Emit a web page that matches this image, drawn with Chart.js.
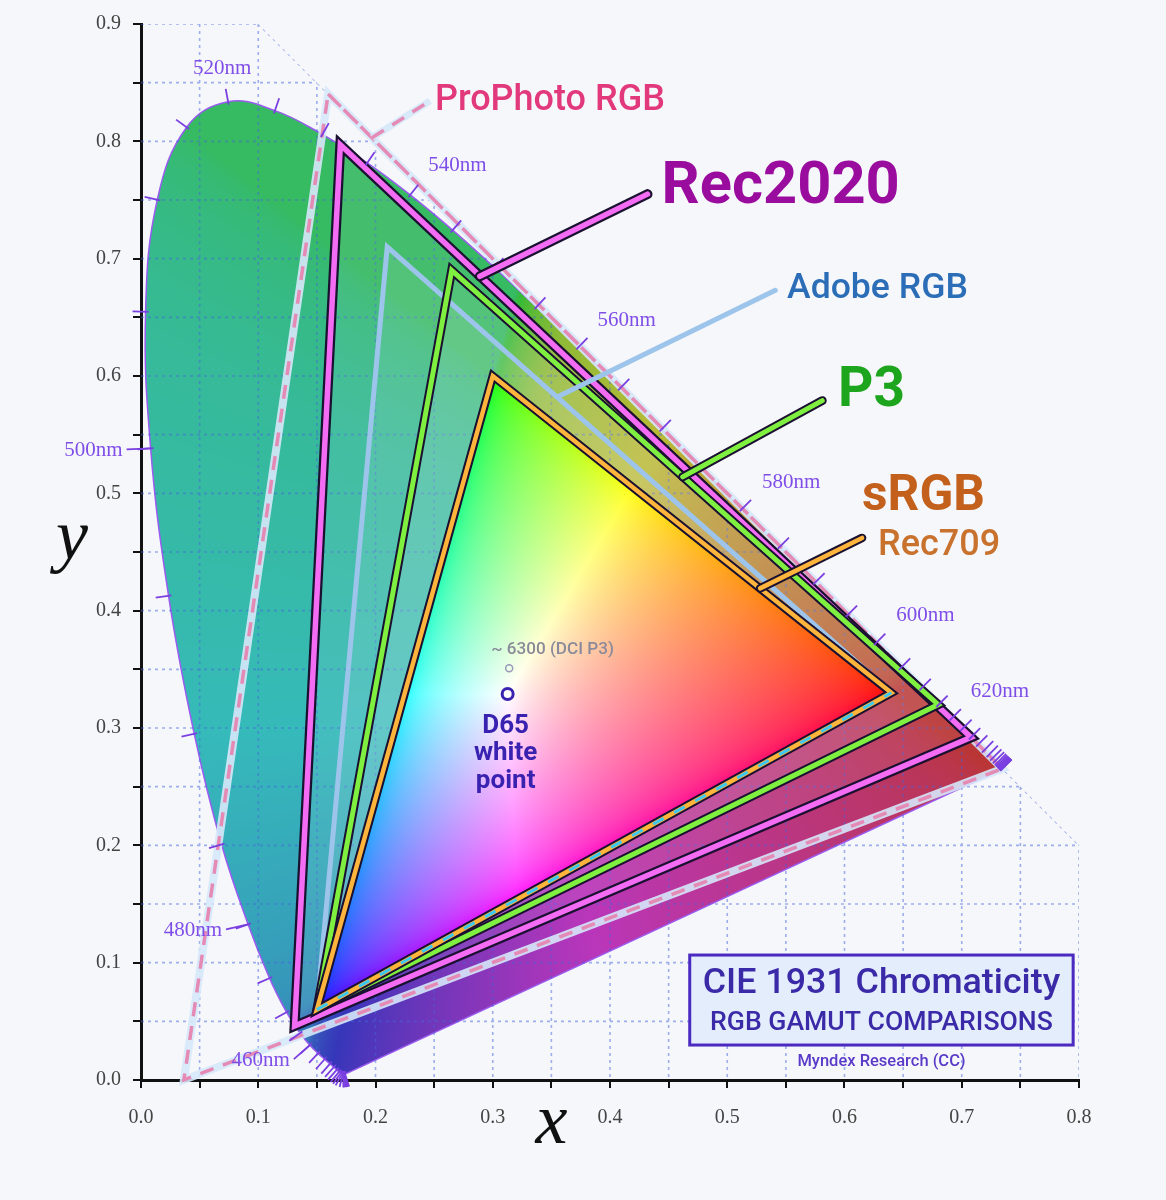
<!DOCTYPE html>
<html>
<head>
<meta charset="utf-8">
<script src="https://cdn.jsdelivr.net/npm/chart.js@4.4.1/dist/chart.umd.min.js"></script>
<style>
  html, body { margin: 0; padding: 0; background: #f6f7fa; }
  #wrap { width: 1166px; height: 1200px; }
</style>
</head>
<body>
<div id="wrap"><canvas id="cie"></canvas></div>
<script>
// CIE 1931 spectral locus, 5nm steps
const wavelengths = [380,385,390,395,400,405,410,415,420,425,430,435,440,445,450,455,460,465,470,475,
  480,485,490,495,500,505,510,515,520,525,530,535,540,545,550,555,560,565,570,575,580,585,590,595,
  600,605,610,615,620,625,630,635,640,645,650,655,660,665,670,675,680,685,690,695,700];
const locusX = [0.1741,0.1740,0.1738,0.1736,0.1733,0.1730,0.1726,0.1721,0.1714,0.1703,0.1689,0.1669,0.1644,0.1611,0.1566,0.1510,0.1440,0.1355,0.1241,0.1096,
  0.0913,0.0687,0.0454,0.0235,0.0082,0.0039,0.0139,0.0389,0.0743,0.1142,0.1547,0.1929,0.2296,0.2658,0.3016,0.3373,0.3731,0.4087,0.4441,0.4788,0.5125,0.5448,0.5752,0.6029,
  0.6270,0.6482,0.6658,0.6801,0.6915,0.7006,0.7079,0.7140,0.7190,0.7230,0.7260,0.7283,0.7300,0.7311,0.7320,0.7327,0.7334,0.7340,0.7344,0.7346,0.7347];
const locusY = [0.0050,0.0050,0.0049,0.0049,0.0048,0.0048,0.0048,0.0048,0.0051,0.0058,0.0069,0.0086,0.0109,0.0138,0.0177,0.0227,0.0297,0.0399,0.0578,0.0868,
  0.1327,0.2007,0.2950,0.4127,0.5384,0.6548,0.7502,0.8120,0.8338,0.8262,0.8059,0.7816,0.7543,0.7243,0.6923,0.6589,0.6245,0.5896,0.5547,0.5202,0.4866,0.4544,0.4242,0.3965,
  0.3725,0.3514,0.3340,0.3197,0.3083,0.2993,0.2920,0.2859,0.2809,0.2770,0.2740,0.2717,0.2700,0.2689,0.2680,0.2673,0.2666,0.2660,0.2656,0.2654,0.2653];
const labeledWl = [460,480,500,520,540,560,580,600,620];

// gamut primaries, order R, G, B
const srgbX = [0.640, 0.300, 0.150],     srgbY = [0.330, 0.600, 0.060];
const p3X = [0.680, 0.265, 0.150],       p3Y = [0.320, 0.690, 0.060];
const adobeX = [0.640, 0.210, 0.150],    adobeY = [0.330, 0.710, 0.060];
const rec2020X = [0.708, 0.170, 0.131],  rec2020Y = [0.292, 0.797, 0.046];
const prophotoX = [0.7347, 0.1596, 0.0366], prophotoY = [0.2653, 0.8404, 0.0001];

// white points: D65, DCI P3
const whiteX = [0.3127, 0.314];
const whiteY = [0.3290, 0.351];

// axis tick labels
const xTickLabels = ['0.0','0.1','0.2','0.3','0.4','0.5','0.6','0.7','0.8'];
const yTickLabels = ['0.0','0.1','0.2','0.3','0.4','0.5','0.6','0.7','0.8','0.9'];

// area where the dotted grid is shown
const hullX = [0, 0, 0.1, 0.8, 0.8];
const hullY = [0, 0.9, 0.9, 0.2, 0];

// label placement (pixel offsets from the locus point)
const wlLabelPos = {
  460: { dx: -20, dy: 15, align: 'right', lead: true },
  480: { dx: -26, dy: 6, align: 'right', lead: true },
  500: { dx: -28, dy: 2, align: 'right', lead: true },
  520: { dx: -6, dy: -33, align: 'center' },
  540: { dx: 18, dy: -29, align: 'left' },
  560: { dx: 19, dy: -27, align: 'left' },
  580: { dx: 20, dy: -27, align: 'left' },
  600: { dx: 20, dy: -27, align: 'left' },
  620: { dx: 19, dy: -27, align: 'left' }
};

const gamutLabels = [
  { text: 'ProPhoto RGB', x: 0.2507, y: 0.8345, w: 230, weight: 500, color: '#e2387c', line: [[0.197, 0.803], [0.2465, 0.8345]], kind: 'prophoto' },
  { text: 'Rec2020', x: 0.444, y: 0.760, w: 238, weight: 700, color: '#9a0c9e', line: [[0.289, 0.685], [0.432, 0.755]], kind: 'rec2020' },
  { text: 'Adobe RGB', x: 0.551, y: 0.674, w: 181, weight: 500, color: '#2b6db6', line: [[0.355, 0.582], [0.541, 0.673]], kind: 'adobe' },
  { text: 'P3', x: 0.5945, y: 0.586, w: 67, weight: 700, color: '#1ea51e', line: [[0.462, 0.514], [0.581, 0.579]], kind: 'p3' },
  { text: 'sRGB', x: 0.615, y: 0.496, w: 123, weight: 700, color: '#c2601c', line: [[0.528, 0.419], [0.615, 0.462]], kind: 'srgb' },
  { text: 'Rec709', x: 0.6286, y: 0.4555, w: 122, weight: 500, color: '#c8722e' }
];

const SANS = 'Roboto, "Noto Sans", sans-serif';
const SERIF = '"Liberation Serif", "DejaVu Serif", serif';

function pts(xs, ys, close) {
  const p = xs.map((v, i) => ({ x: v, y: ys[i] }));
  if (close) { p.push(p[0]); p.push(p[1]); }
  return p;
}

// xy chromaticity -> display colour (max-normalised, clipped)
function chromaRGB(x, y) {
  y = Math.max(y, 0.001);
  const X = x / y, Z = (1 - x - y) / y;
  let r = Math.max(0, 3.2406 * X - 1.5372 - 0.4986 * Z);
  let g = Math.max(0, -0.9689 * X + 1.8758 + 0.0415 * Z);
  let b = Math.max(0, 0.0557 * X - 0.2040 + 1.0570 * Z);
  const m = Math.max(r, g, b) || 1;
  const gam = c => c <= 0.0031308 ? 12.92 * c : 1.055 * Math.pow(c, 1 / 2.4) - 0.055;
  return [gam(r / m), gam(g / m), gam(b / m)];
}

// piecewise hue remap: greens lean to olive near yellow and teal toward cyan
const HUE_IN = [0, 60, 90, 120, 150, 230, 360];
const HUE_OUT = [0, 60, 80, 140, 165, 200, 360];
function remapHue(h) {
  for (let i = 1; i < HUE_IN.length; i++) {
    if (h <= HUE_IN[i]) {
      const t = (h - HUE_IN[i - 1]) / (HUE_IN[i] - HUE_IN[i - 1]);
      return HUE_OUT[i - 1] + t * (HUE_OUT[i] - HUE_OUT[i - 1]);
    }
  }
  return h;
}

// darker version used outside the sRGB triangle
function mutedRGB(c) {
  const [r, g, b] = c;
  const mx = Math.max(r, g, b), mn = Math.min(r, g, b), d = mx - mn;
  let h = 0;
  if (d > 1e-6) {
    if (mx === r) h = ((g - b) / d + 6) % 6;
    else if (mx === g) h = (b - r) / d + 2;
    else h = (r - g) / d + 4;
    h *= 60;
  }
  h = remapHue(h);
  const s = 0.55 * Math.min(1, d / (mx || 1)), l = 0.47;
  const C = (1 - Math.abs(2 * l - 1)) * s, X = C * (1 - Math.abs((h / 60) % 2 - 1)), m = l - C / 2;
  let rr, gg, bb;
  if (h < 60) [rr, gg, bb] = [C, X, 0];
  else if (h < 120) [rr, gg, bb] = [X, C, 0];
  else if (h < 180) [rr, gg, bb] = [0, C, X];
  else if (h < 240) [rr, gg, bb] = [0, X, C];
  else if (h < 300) [rr, gg, bb] = [X, 0, C];
  else [rr, gg, bb] = [C, 0, X];
  return [rr + m, gg + m, bb + m];
}

function fitFont(ctx, text, weight, family, width) {
  ctx.font = `${weight} 100px ${family}`;
  const w = ctx.measureText(text).width;
  return `${weight} ${(100 * width / w).toFixed(1)}px ${family}`;
}

// builds the colour patterns once the scales are placed
const chromaPlugin = {
  id: 'chroma',
  afterLayout(chart) {
    const a = chart.chartArea, sx = chart.scales.x, sy = chart.scales.y;
    const key = a.left + ',' + a.top + ',' + a.width + ',' + a.height;
    if (chart.$chroma && chart.$chroma.key === key) return;
    const w = chart.width, h = chart.height;
    const cb = document.createElement('canvas'); cb.width = w; cb.height = h;
    const cm = document.createElement('canvas'); cm.width = w; cm.height = h;
    const ib = cb.getContext('2d').createImageData(w, h);
    const im = cm.getContext('2d').createImageData(w, h);
    for (let py = Math.floor(a.top); py < Math.min(h, Math.ceil(a.bottom)); py++) {
      const y = sy.max - (py + 0.5 - a.top) / a.height * (sy.max - sy.min);
      for (let px = Math.floor(a.left); px < Math.min(w, Math.ceil(a.right)); px++) {
        const x = sx.min + (px + 0.5 - a.left) / a.width * (sx.max - sx.min);
        const c = chromaRGB(x, y);
        const m = mutedRGB(c);
        const k = (py * w + px) * 4;
        ib.data[k] = c[0] * 255; ib.data[k + 1] = c[1] * 255; ib.data[k + 2] = c[2] * 255; ib.data[k + 3] = 255;
        im.data[k] = m[0] * 255; im.data[k + 1] = m[1] * 255; im.data[k + 2] = m[2] * 255; im.data[k + 3] = 255;
      }
    }
    cb.getContext('2d').putImageData(ib, 0, 0);
    cm.getContext('2d').putImageData(im, 0, 0);
    chart.$chroma = {
      key,
      bright: chart.ctx.createPattern(cb, 'no-repeat'),
      muted: chart.ctx.createPattern(cm, 'no-repeat')
    };
  }
};

// dotted grid, drawn right after the locus fill
const gridPlugin = {
  id: 'cieGrid',
  afterDatasetDraw(chart, args) {
    if (args.index !== 0) return;
    const { ctx, scales: { x, y } } = chart;
    ctx.save();
    ctx.beginPath();
    hullX.forEach((v, i) => {
      const px = x.getPixelForValue(v), py = y.getPixelForValue(hullY[i]);
      i ? ctx.lineTo(px, py) : ctx.moveTo(px, py);
    });
    ctx.closePath();
    ctx.clip();
    ctx.strokeStyle = 'rgba(70,100,220,0.5)';
    ctx.lineWidth = 1.6;
    ctx.setLineDash([3, 4]);
    ctx.beginPath();
    x.ticks.forEach(t => {
      if (t.value <= x.min) return;
      const px = x.getPixelForValue(t.value);
      ctx.moveTo(px, chart.chartArea.top); ctx.lineTo(px, chart.chartArea.bottom);
    });
    y.ticks.forEach(t => {
      if (t.value <= y.min) return;
      const py = y.getPixelForValue(t.value);
      ctx.moveTo(chart.chartArea.left, py); ctx.lineTo(chart.chartArea.right, py);
    });
    // diagonal edge of the grid area
    ctx.moveTo(x.getPixelForValue(hullX[2]), y.getPixelForValue(hullY[2]));
    ctx.lineTo(x.getPixelForValue(hullX[3]), y.getPixelForValue(hullY[3]));
    ctx.stroke();
    ctx.restore();
  }
};

function strokeLeader(ctx, p0, p1, kind) {
  const seg = (color, width, dash) => {
    ctx.setLineDash(dash || []);
    ctx.strokeStyle = color; ctx.lineWidth = width;
    ctx.beginPath(); ctx.moveTo(p0[0], p0[1]); ctx.lineTo(p1[0], p1[1]); ctx.stroke();
  };
  ctx.lineCap = 'round';
  if (kind === 'prophoto') { ctx.lineCap = 'butt'; seg('rgba(214,232,250,0.95)', 7); seg('#e58ab5', 3.5, [14, 10]); }
  if (kind === 'rec2020') { seg('#1a1030', 10); seg('#f46cf4', 5.5); }
  if (kind === 'adobe') { seg('#9dc4ea', 5); }
  if (kind === 'p3') { seg('#1a1030', 9); seg('#80f040', 5); }
  if (kind === 'srgb') { seg('#1a1030', 8.5); seg('#ffb43c', 4.5); }
  ctx.setLineDash([]);
}

// wavelength ticks, labels, callouts, title box, axis titles
const annotatePlugin = {
  id: 'annotate',
  afterDatasetsDraw(chart) {
    const { ctx, scales: { x, y }, chartArea } = chart;
    const P = (vx, vy) => [x.getPixelForValue(vx), y.getPixelForValue(vy)];
    ctx.save();

    // locus ticks
    const pix = locusX.map((v, i) => P(v, locusY[i]));
    ctx.strokeStyle = '#7a3fe0';
    ctx.lineWidth = 1.8;
    pix.forEach((p, i) => {
      const a = pix[Math.max(0, i - 1)], b = pix[Math.min(pix.length - 1, i + 1)];
      let tx = b[0] - a[0], ty = b[1] - a[1];
      const len = Math.hypot(tx, ty) || 1;
      const nx = ty / len, ny = -tx / len;
      ctx.beginPath();
      ctx.moveTo(p[0] - nx * 3, p[1] - ny * 3);
      ctx.lineTo(p[0] + nx * 13, p[1] + ny * 13);
      ctx.stroke();
    });

    // wavelength labels
    ctx.fillStyle = '#7f4ee8';
    ctx.font = '21px ' + SERIF;
    ctx.textBaseline = 'middle';
    labeledWl.forEach(wl => {
      const i = wavelengths.indexOf(wl);
      const p = pix[i], o = wlLabelPos[wl];
      ctx.textAlign = o.align;
      ctx.fillText(wl + 'nm', p[0] + o.dx, p[1] + o.dy);
      if (o.lead) {
        ctx.beginPath();
        ctx.moveTo(p[0] + o.dx + 4, p[1] + o.dy - 1);
        ctx.lineTo(p[0], p[1]);
        ctx.stroke();
      }
    });

    // gamut callouts
    gamutLabels.forEach(g => {
      if (g.line) strokeLeader(ctx, P(g.line[0][0], g.line[0][1]), P(g.line[1][0], g.line[1][1]), g.kind);
      const p = P(g.x, g.y);
      ctx.font = fitFont(ctx, g.text, g.weight, SANS, g.w);
      ctx.fillStyle = g.color;
      ctx.textAlign = 'left';
      ctx.textBaseline = 'middle';
      ctx.fillText(g.text, p[0], p[1]);
    });

    // white point labels
    ctx.textAlign = 'center';
    ctx.fillStyle = '#8a8a9a';
    let p = P(0.351, 0.367);
    ctx.font = fitFont(ctx, '~ 6300 (DCI P3)', 500, SANS, 123);
    ctx.fillText('~ 6300 (DCI P3)', p[0], p[1]);
    ctx.fillStyle = '#3a22b0';
    ctx.font = '700 26px ' + SANS;
    [['D65', 0.3014], ['white', 0.2785], ['point', 0.2546]].forEach(([t, vy]) => {
      const q = P(0.311, vy);
      ctx.fillText(t, q[0], q[1]);
    });

    // title box
    const b0 = P(0.468, 0.1065), b1 = P(0.795, 0.0298);
    ctx.fillStyle = '#e3edfc';
    ctx.fillRect(b0[0], b0[1], b1[0] - b0[0], b1[1] - b0[1]);
    ctx.strokeStyle = '#4a2ac0';
    ctx.lineWidth = 3;
    ctx.strokeRect(b0[0], b0[1], b1[0] - b0[0], b1[1] - b0[1]);
    const cx = (b0[0] + b1[0]) / 2;
    ctx.fillStyle = '#3a2aa8';
    ctx.font = fitFont(ctx, 'CIE 1931 Chromaticity', 500, SANS, 357);
    ctx.fillText('CIE 1931 Chromaticity', cx, b0[1] + 29);
    ctx.font = fitFont(ctx, 'RGB GAMUT COMPARISONS', 500, SANS, 343);
    ctx.fillText('RGB GAMUT COMPARISONS', cx, b0[1] + 68);
    ctx.fillStyle = '#5a3ac8';
    ctx.font = fitFont(ctx, 'Myndex Research (CC)', 500, SANS, 168);
    ctx.fillText('Myndex Research (CC)', cx, y.getPixelForValue(0.0152));

    // axis titles
    ctx.fillStyle = '#111';
    ctx.font = 'italic 72px ' + SERIF;
    ctx.fillText('x', x.getPixelForValue(0.35), chartArea.bottom + 44);
    ctx.fillText('y', chartArea.left - 69, y.getPixelForValue(0.46));
    ctx.restore();
  }
};

const layers = [
  { data: pts(locusX, locusY, true), borderColor: '#9a5cf0', borderWidth: 1.5, fill: 'shape', tension: 0.4,
    backgroundColor: c => (c.chart.$chroma ? c.chart.$chroma.muted : 'transparent') },
  { data: pts(rec2020X, rec2020Y, true), borderWidth: 0, fill: 'shape', backgroundColor: 'rgba(255,255,255,0.07)' },
  { data: pts(adobeX, adobeY, true), borderWidth: 0, fill: 'shape', backgroundColor: 'rgba(255,255,255,0.09)' },
  { data: pts(p3X, p3Y, true), borderWidth: 0, fill: 'shape', backgroundColor: 'rgba(255,255,255,0.09)' },
  { data: pts(prophotoX, prophotoY, true), borderColor: 'rgba(214,232,250,0.9)', borderWidth: 8 },
  { data: pts(prophotoX, prophotoY, true), borderColor: '#e58ab5', borderWidth: 3.5, borderDash: [14, 10] },
  { data: pts(adobeX, adobeY, true), borderColor: '#9dc4ea', borderWidth: 5 },
  { data: pts(rec2020X, rec2020Y, true), borderColor: '#1a1030', borderWidth: 10 },
  { data: pts(rec2020X, rec2020Y, true), borderColor: '#f46cf4', borderWidth: 5.5 },
  { data: pts(p3X, p3Y, true), borderColor: '#1a1030', borderWidth: 9 },
  { data: pts(p3X, p3Y, true), borderColor: '#80f040', borderWidth: 5 },
  { data: pts(srgbX, srgbY, true), borderColor: '#1a1030', borderWidth: 8.5, fill: 'shape',
    backgroundColor: c => (c.chart.$chroma ? c.chart.$chroma.bright : 'transparent') },
  { data: pts(srgbX, srgbY, true), borderColor: '#ffb43c', borderWidth: 4.5 },
  // Adobe RGB shares the blue-red edge with sRGB
  { data: [{ x: adobeX[2], y: adobeY[2] }, { x: adobeX[0], y: adobeY[0] }], borderColor: '#3cc8f0', borderWidth: 3, borderDash: [12, 12] },
  { data: pts(whiteX, whiteY, false), showLine: false, pointRadius: [5.5, 3.5], pointBorderWidth: [3, 1.5],
    pointBorderColor: ['#3a22b0', '#9a9ab8'], pointBackgroundColor: 'transparent' }
];

const datasets = layers.map((d, i) => Object.assign({
  showLine: true, pointRadius: 0, fill: false, clip: false, borderJoinStyle: 'miter',
  order: layers.length - i
}, d));

Chart.defaults.font.family = SANS;

new Chart(document.getElementById('cie'), {
  type: 'scatter',
  data: { datasets },
  options: {
    responsive: true,
    maintainAspectRatio: false,
    animation: false,
    events: [],
    layout: { padding: { left: 0, top: 23, right: 87, bottom: 0 } },
    plugins: { legend: { display: false }, tooltip: { enabled: false } },
    scales: {
      x: {
        type: 'linear', min: 0, max: 0.8,
        afterFit: s => { s.height = 120; },
        border: { color: '#111', width: 3 },
        grid: { drawOnChartArea: false, drawTicks: true, tickLength: 8, color: '#111', lineWidth: 2 },
        ticks: {
          stepSize: 0.05, autoSkip: false, maxRotation: 0, padding: 18,
          color: '#444', font: { family: SERIF, size: 20 },
          callback: v => { const k = Math.round(v * 20); return k % 2 === 0 ? xTickLabels[k / 2] : ''; }
        }
      },
      y: {
        type: 'linear', min: 0, max: 0.9,
        afterFit: s => { s.width = 141; },
        border: { color: '#111', width: 3 },
        grid: { drawOnChartArea: false, drawTicks: true, tickLength: 8, color: '#111', lineWidth: 2 },
        ticks: {
          stepSize: 0.05, autoSkip: false, padding: 12,
          color: '#444', font: { family: SERIF, size: 20 },
          callback: v => { const k = Math.round(v * 20); return k % 2 === 0 ? yTickLabels[k / 2] : ''; }
        }
      }
    }
  },
  plugins: [chromaPlugin, gridPlugin, annotatePlugin]
});
</script>
</body>
</html>
